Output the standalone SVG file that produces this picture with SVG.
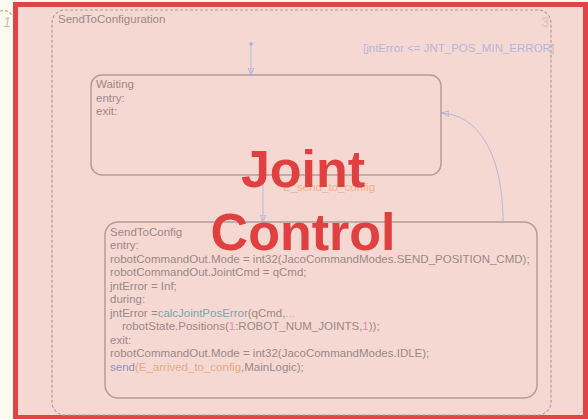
<svg xmlns="http://www.w3.org/2000/svg" width="588" height="419" viewBox="0 0 588 419">
<defs>
<style>
.t{font-family:"Liberation Sans",Arial,sans-serif;font-size:11.5px;fill:#9a8886}
.st{fill:none;stroke:#b39c99;stroke-width:1.5}
.tr{fill:none;stroke:#b4b8dc;stroke-width:1}
.big{font-family:"Liberation Sans",Arial,sans-serif;font-size:52px;font-weight:bold;fill:#e04040;text-anchor:middle}
</style>
<marker id="ah" viewBox="0 0 10 10" refX="10" refY="5" markerWidth="7" markerHeight="7" orient="auto-start-reverse" markerUnits="userSpaceOnUse">
<path d="M0,1 L10,5 L0,9 Z" fill="none" stroke="#a8acd4" stroke-width="1.2"/>
</marker>
</defs>
<rect x="0" y="0" width="588" height="419" fill="#fcf9ee"/>
<path d="M0,11 Q9,9 13,17" fill="none" stroke="#b0aaa8" stroke-width="1.2" stroke-dasharray="3,2"/>
<text x="3" y="27" style="font-family:'Liberation Sans',Arial,sans-serif;font-size:14px;font-style:italic;fill:#c8c2bc">1</text>
<rect x="15.5" y="4.5" width="570" height="413" fill="#f6d8d2" stroke="#e04444" stroke-width="5"/>

<g id="SendToConfiguration">
<rect x="52" y="10" width="499" height="405" rx="13" fill="none" stroke="#b09c9a" stroke-width="1.2" stroke-dasharray="3,2"/>
<text class="t" x="58" y="23">SendToConfiguration</text>
<text x="541" y="27" style="font-family:'Liberation Sans',Arial,sans-serif;font-size:15px;fill:#efd2cc;stroke:#e2c4be;stroke-width:0.6">3</text>
</g>

<g id="Waiting">
<rect class="st" x="91" y="75" width="350" height="100" rx="11"/>
<text class="t" x="96" y="88">Waiting</text>
<text class="t" x="96" y="102">entry:</text>
<text class="t" x="96" y="115">exit:</text>
</g>

<g id="SendToConfig">
<rect class="st" x="105" y="222" width="432" height="176" rx="13"/>
<text class="t" x="110" y="235.5">SendToConfig</text>
<text class="t" x="110" y="249">entry:</text>
<text class="t" x="110" y="262.5">robotCommandOut.Mode = int32(JacoCommandModes.SEND_POSITION_CMD);</text>
<text class="t" x="110" y="276">robotCommandOut.JointCmd = qCmd;</text>
<text class="t" x="110" y="289.5">jntError = Inf;</text>
<text class="t" x="110" y="303">during:</text>
<text class="t" x="110" y="316.5">jntError =<tspan fill="#78a8ac">calcJointPosError</tspan>(qCmd,<tspan fill="#e8b08a">...</tspan></text>
<text class="t" x="122" y="330">robotState.Positions(<tspan fill="#e08cbc">1</tspan>:ROBOT_NUM_JOINTS,<tspan fill="#e08cbc">1</tspan>));</text>
<text class="t" x="110" y="343.5">exit:</text>
<text class="t" x="110" y="357">robotCommandOut.Mode = int32(JacoCommandModes.IDLE);</text>
<text class="t" x="110" y="370.5"><tspan fill="#8c90c4">send</tspan><tspan fill="#e8a880">(E_arrived_to_config</tspan>,MainLogic);</text>
</g>

<g id="connectors">
<circle cx="251" cy="44" r="1.8" fill="#a8acd4"/>
<line class="tr" x1="251" y1="44" x2="251" y2="75" marker-end="url(#ah)"/>
<line class="tr" x1="263" y1="175" x2="263" y2="222" marker-end="url(#ah)"/>
<path class="tr" d="M503,222 C503,160 482,116 442,113" marker-end="url(#ah)"/>
<text x="283" y="191" style="font-family:'Liberation Sans',Arial,sans-serif;font-size:11.5px;fill:#eeb08a">E_send_to_config</text>
<text x="363" y="52" style="font-family:'Liberation Sans',Arial,sans-serif;font-size:11.5px;fill:#b8b6d8">[jntError &lt;= JNT_POS_MIN_ERROR]</text>
</g>

<text class="big" x="303" y="187">Joint</text>
<text class="big" x="303" y="249.5">Control</text>
</svg>
